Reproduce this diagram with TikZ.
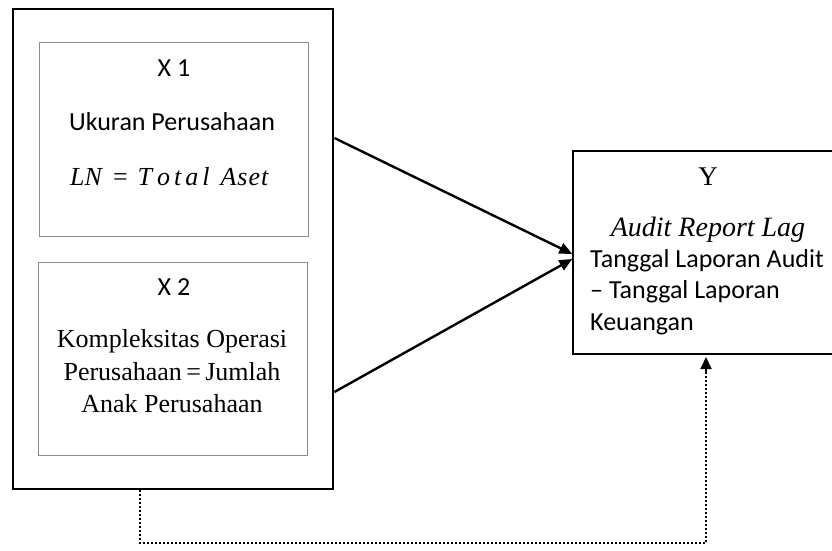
\documentclass[tikz,border=0pt]{standalone}
\usepackage{fontspec}
\setmainfont{Liberation Serif}
\newfontfamily\calib{Carlito}
\usetikzlibrary{arrows.meta}
\begin{document}
\begin{tikzpicture}[x=1pt,y=-1pt,
  outerbox/.style={draw=black,line width=2.8pt,minimum width=320pt,minimum height=480pt,inner sep=0pt},
  innerbox/.style={draw=black!45,line width=1pt,minimum width=269pt,minimum height=193pt,inner sep=0pt},
  ybox/.style={draw=black,line width=1.3pt,minimum width=262pt,minimum height=203pt,inner sep=0pt},
  cal/.style={font=\calib\fontsize{26}{30}\selectfont,inner sep=0pt,anchor=base},
  tms/.style={font=\fontsize{26}{30}\selectfont,inner sep=0pt,anchor=base},
  arr/.style={line width=2.4pt,-{Triangle[length=13pt,width=11pt]}},
  dots/.style={line width=2pt,dotted}
]
\useasboundingbox (0,0) rectangle (832,551);
\node[outerbox] (outer) at (173,249) {};
\node[innerbox] (x1box) at (174,139.5) {};
\node[innerbox] (x2box) at (173,358.5) {};
\node[ybox] (ybox) at (704,252.5) {};

\node[cal] (x1lab) at (174,77) {X 1};
\node[cal] (x1name) at (172,130) {Ukuran Perusahaan};
\node[tms,anchor=base west,font=\itshape\fontsize{26}{30}\selectfont] (x1eq) at (70,185)
  {LN\hspace{11pt}{\upshape=}\hspace{10pt}T\kern5pt o\kern4pt t\kern4pt a\kern4pt l\hspace{11pt}A\kern1pt s\kern1pt e\kern1pt t};

\node[cal] (x2lab) at (174,295) {X 2};
\node[tms] (x2l1) at (172,347) {Kompleksitas Operasi};
\node[tms] (x2l2) at (172,380) {Perusahaan\,=\,Jumlah};
\node[tms] (x2l3) at (172,412) {Anak Perusahaan};

\node[tms,font=\fontsize{27}{30}\selectfont] (ylab) at (708,185) {Y};
\node[tms,font=\itshape\fontsize{28}{30}\selectfont] (yname) at (708,236) {Audit Report Lag};
\node[cal,anchor=base west] (yl1) at (590,267) {Tanggal Laporan Audit};
\node[cal,anchor=base west] (yl2) at (590,298) {– Tanggal Laporan};
\node[cal,anchor=base west] (yl3) at (590,330) {Keuangan};

\coordinate (a1s) at (outer.east |- 0,138);
\coordinate (a2s) at (outer.east |- 0,392);
\coordinate (a1e) at (ybox.west |- 0,254);
\coordinate (a2e) at (ybox.west |- 0,259);
\draw[arr] (a1s) -- (a1e);
\draw[arr] (a2s) -- (a2e);

\coordinate (d0) at (140,490);
\coordinate (d1) at (140,543);
\coordinate (d2) at (706,543);
\coordinate (d3) at (706,357);
\coordinate (d4) at (706,372);
\draw[dots] (d0) -- (d1) -- (d2) -- (d4);
\draw[-{Triangle[length=12pt,width=11pt]},line width=2pt] (d4) -- (d3);
\end{tikzpicture}
\end{document}
